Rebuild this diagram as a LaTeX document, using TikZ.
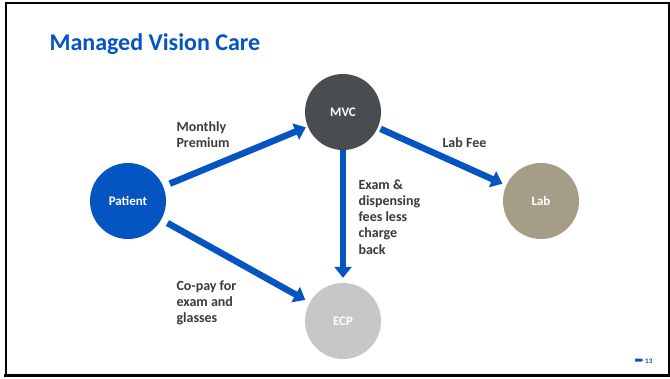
\documentclass[tikz,border=0pt]{standalone}
\usepackage{fontspec}
\setmainfont{Carlito}
\usetikzlibrary{arrows.meta}

\definecolor{mvblue}{HTML}{0455C2}
\definecolor{mvgray}{HTML}{4A4D50}
\definecolor{labtan}{HTML}{A59D86}
\definecolor{ecpgray}{HTML}{C5C7C9}
\definecolor{txtgray}{HTML}{3A3A3A}

\begin{document}
\begin{tikzpicture}[x=1pt,y=-1pt,
  party/.style={circle, minimum size=76pt, inner sep=0pt, text=white,
    font=\bfseries\fontsize{13}{15}\selectfont},
  flow/.style={draw=mvblue, line width=6.5pt, -{Triangle[length=11pt,width=17pt]}},
  note/.style={anchor=west, align=left, text=txtgray,
    font=\bfseries\fontsize{14}{16.2}\selectfont}]

\useasboundingbox (0,0) rectangle (670,378);
\fill[white] (0,0) rectangle (670,378);

% slide frame
\draw[line width=2pt] (6,376) -- (6,3) -- (670,3);
\draw[line width=3pt] (4,375.5) -- (670,375.5);
\draw[line width=1.5pt] (669,3) -- (669,376);

% title
\node[anchor=west, text=mvblue, font=\bfseries\fontsize{24}{28}\selectfont] (title) at (46,44) {Managed Vision Care};

% the four parties
\node[party, fill=mvblue] (patient) at (128,201) {Patient};
\node[party, fill=mvgray] (mvc) at (343,112) {MVC};
\node[party, fill=labtan] (lab) at (541,201) {Lab};
\node[party, fill=ecpgray] (ecp) at (343,321) {ECP};

% draw the money flows
\draw[flow, shorten <=7pt, shorten >=2pt] (patient) -- (mvc);
\draw[flow, shorten <=7pt, shorten >=5pt] (patient) -- (ecp);
\draw[flow, shorten <=3pt, shorten >=4pt] (mvc) -- (lab);
\draw[flow, shorten <=0pt, shorten >=5pt] (mvc) -- (ecp);

% labels of the flows
\node[note] (premium) at (173,135) {Monthly\\Premium};
\node[note] (labfee) at (439,143) {Lab Fee};
\node[note] (fees) at (355,217) {Exam \&\\dispensing\\fees less\\charge\\back};
\node[note] (copay) at (173,303) {Co-pay for\\exam and\\glasses};

% page number
\fill[mvblue] (635,358.5) -- (641,358.5) -- (643.5,360) -- (641,361.5) -- (635,361.5) -- cycle;
\node[anchor=west, text=mvblue, font=\bfseries\fontsize{7}{8}\selectfont, inner sep=0pt] (pagenum) at (645,361) {13};

\end{tikzpicture}
\end{document}
